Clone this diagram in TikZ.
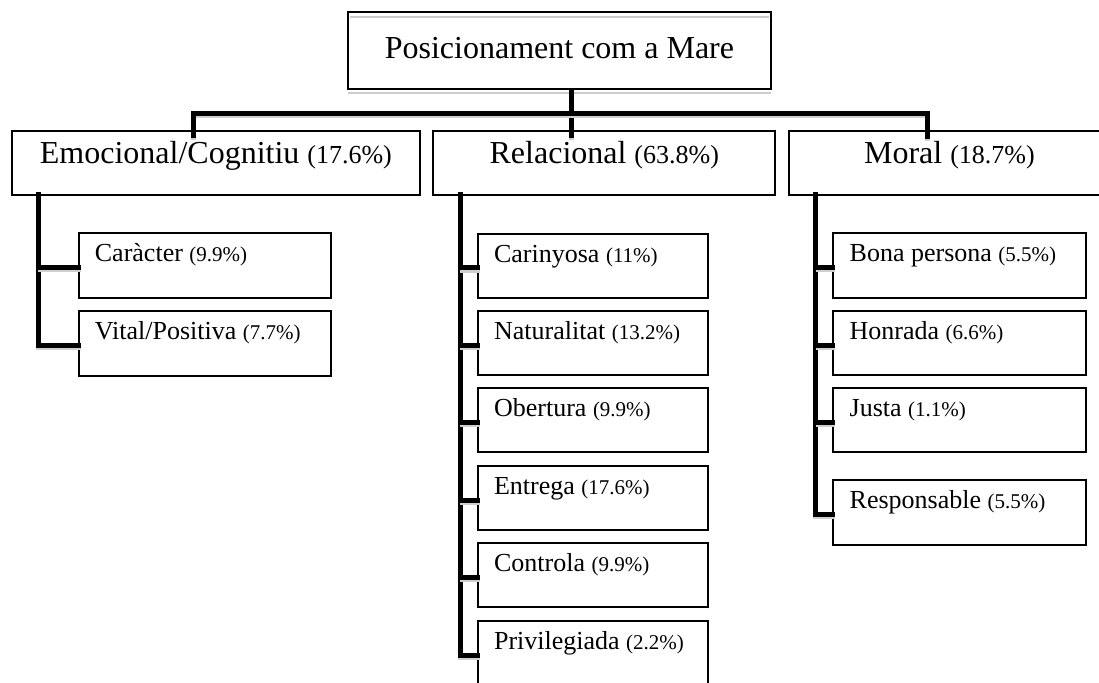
\documentclass[tikz,border=0pt]{standalone}
\usepackage{fontspec}
\setmainfont{Liberation Serif}
\usetikzlibrary{calc}
\newcommand\lpct[1]{{\fontsize{13}{15}\selectfont #1}}
\newcommand\spct[1]{{\fontsize{10.5}{12}\selectfont #1}}
\begin{document}
\begin{tikzpicture}[x=0.5pt,y=-0.5pt,
  boxst/.style={draw=black, line width=1pt, inner sep=0pt, outer sep=0pt, rectangle, anchor=north west},
  bigtext/.style={anchor=base, inner sep=0pt, font=\fontsize{16}{19}\selectfont},
  childtext/.style={anchor=base west, inner sep=0pt, font=\fontsize{13}{15}\selectfont},
  conn/.style={line width=2.5pt, black, line join=miter},
  shad/.style={line width=2.5pt, gray!38, line join=miter},
  faint/.style={line width=0.8pt, gray!40}
]
\useasboundingbox (0,0) rectangle (1099,682);
\clip (0,0) rectangle (1099,682);

\newcommand\wire[1]{\draw[shad,transform canvas={yshift=-1.2pt}] #1; \draw[conn] #1;}
\newcommand\childbox[6]{%
  \node[boxst, minimum width=#4, minimum height=32.3pt] (#1) at (#2,#3) {};
  \node[childtext] (#1t) at ($(#1.north west)+(16,28.5)$) {#5 \spct{#6}};
  \coordinate (#1k) at ($(#1.west)+(2,2)$);}

% root
\node[boxst, minimum width=211.15pt, minimum height=38.35pt] (root) at (348.3,12.3) {};
\node[bigtext] (roott) at ($(root.north)+(0,46)$) {Posicionament com a Mare};
\draw[faint] ($(root.north west)+(2,4.5)$) -- ($(root.north east)+(-2,4.5)$);
\draw[faint] ($(root.south west)+(0,4)$) -- ($(root.south east)+(0,4)$);

% level 1
\node[boxst, minimum width=204.3pt, minimum height=32pt] (emo) at (11.6,130.7) {};
\node[bigtext] (emot) at ($(emo.north)+(0,32.3)$) {Emocional/Cognitiu \lpct{(17.6\%)}};
\node[boxst, minimum width=171pt, minimum height=32pt] (rel) at (433.3,130.7) {};
\node[bigtext] (relt) at ($(rel.north)+(0,32.3)$) {Relacional \lpct{(63.8\%)}};
\node[boxst, minimum width=160.5pt, minimum height=32pt] (mor) at (788.9,130.7) {};
\node[bigtext] (mort) at ($(mor.north)+(0,32.3)$) {Moral \lpct{(18.7\%)}};

% children
\childbox{c1}{78.5}{233}{126.4pt}{Caràcter}{(9.9\%)}
\childbox{c2}{78.5}{311}{126.4pt}{Vital/Positiva}{(7.7\%)}

\childbox{r1}{477.7}{233.5}{115.3pt}{Carinyosa}{(11\%)}
\childbox{r2}{477.7}{310.7}{115.3pt}{Naturalitat}{(13.2\%)}
\childbox{r3}{477.7}{387.7}{115.3pt}{Obertura}{(9.9\%)}
\childbox{r4}{477.7}{465.7}{115.3pt}{Entrega}{(17.6\%)}
\childbox{r5}{477.7}{542.7}{115.3pt}{Controla}{(9.9\%)}
\childbox{r6}{477.7}{621}{115.3pt}{Privilegiada}{(2.2\%)}

\childbox{m1}{833.3}{233}{126.4pt}{Bona persona}{(5.5\%)}
\childbox{m2}{833.3}{310.7}{126.4pt}{Honrada}{(6.6\%)}
\childbox{m3}{833.3}{387.7}{126.4pt}{Justa}{(1.1\%)}
\childbox{m4}{833.3}{480}{126.4pt}{Responsable}{(5.5\%)}

% junctions
\coordinate (j0) at (571,113);
\coordinate (jL) at (193,113);
\coordinate (jR) at (927,113);
\coordinate (ev) at ($(emo.south west)+(26.4,-3)$);
\coordinate (rv) at ($(rel.south west)+(26.7,-3)$);
\coordinate (mv) at ($(mor.south west)+(26.6,-3)$);

% top connectors
\wire{(root.south -| j0) -- ($(j0 |- rel.north)+(0,7)$)}
\wire{($(jL |- emo.north)+(0,7)$) -- (jL) -- (jR) -- ($(jR |- mor.north)+(0,8)$)}

% emocional
\wire{(ev) -- (ev |- c2k) -- (c2k)}
\wire{(ev |- c1k) -- (c1k)}
% relacional
\wire{(rv) -- (rv |- r6k) -- (r6k)}
\foreach \k in {r1,r2,r3,r4,r5}{\wire{(rv |- \k k) -- (\k k)}}
% moral
\wire{(mv) -- (mv |- m4k) -- (m4k)}
\foreach \k in {m1,m2,m3}{\wire{(mv |- \k k) -- (\k k)}}
\end{tikzpicture}
\end{document}
